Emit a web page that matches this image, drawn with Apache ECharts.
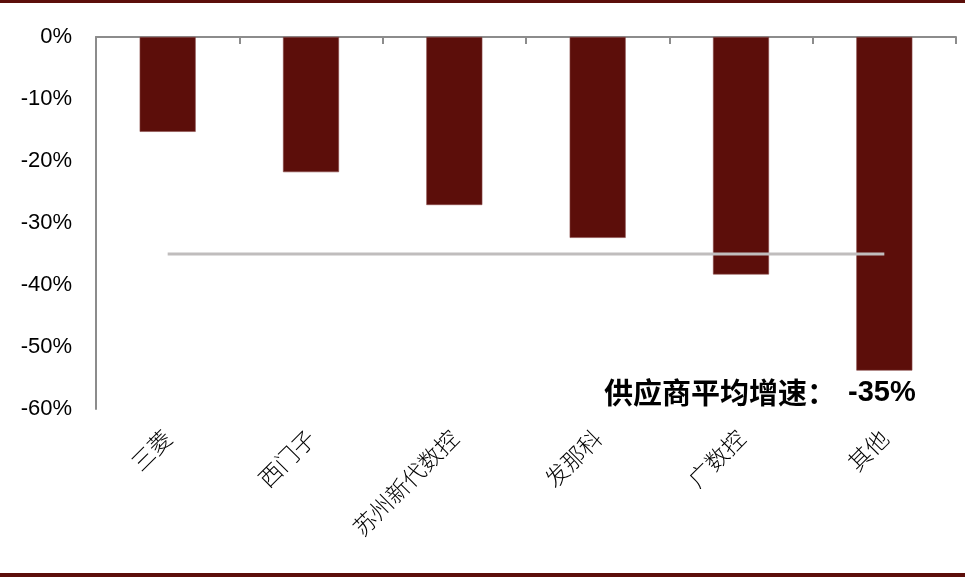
<!DOCTYPE html>
<html>
<head>
<meta charset="utf-8">
<script src="https://cdn.jsdelivr.net/npm/echarts@6/dist/echarts.min.js"></script>
<style>
html,body{margin:0;padding:0;background:#fff;}
#chart{width:965px;height:578px;}
</style>
</head>
<body>
<div id="chart"></div>
<script>
var categories = ['三菱', '西门子', '苏州新代数控', '发那科', '广数控', '其他'];
var growth = [-15.3, -21.8, -27.1, -32.4, -38.3, -53.8];
var average = [-35, -35, -35, -35, -35, -35];
var yTicks = { min: -60, max: 0, interval: 10 };
var annotationLabel = '供应商平均增速：';
var annotationValue = '-35%';

var chart = echarts.init(document.getElementById('chart'), null, { renderer: 'canvas' });
var dark = '#5c0e0a';
chart.setOption({
  backgroundColor: '#ffffff',
  animation: false,
  grid: { left: 96, right: 9, top: 37, bottom: 169 },
  xAxis: [
    {
      type: 'category',
      data: categories,
      position: 'top',
      axisLine: { onZero: false, lineStyle: { color: '#8c8c8c', width: 2 } },
      axisTick: { show: true, inside: true, length: 7, lineStyle: { color: '#8c8c8c', width: 2 } },
      axisLabel: { show: false },
      splitLine: { show: false }
    },
    {
      type: 'category',
      data: categories,
      position: 'bottom',
      axisLine: { show: false },
      axisTick: { show: false },
      axisLabel: {
        show: true,
        rotate: 45,
        margin: 25,
        fontSize: 23,
        color: '#000',
        fontFamily: '"Noto Sans CJK SC", sans-serif',
        fontWeight: 300
      },
      splitLine: { show: false }
    }
  ],
  yAxis: {
    type: 'value',
    min: yTicks.min,
    max: yTicks.max,
    interval: yTicks.interval,
    axisLine: { show: true, lineStyle: { color: '#8c8c8c', width: 2 } },
    axisTick: { show: false },
    splitLine: { show: false },
    axisLabel: {
      formatter: '{value}%',
      fontSize: 22,
      color: '#000',
      margin: 24,
      fontFamily: '"Liberation Sans", Arial, sans-serif'
    }
  },
  series: [
    {
      type: 'bar',
      xAxisIndex: 0,
      data: growth,
      barWidth: 56,
      itemStyle: { color: dark, borderColor: '#8a4a48', borderWidth: 0.6 },
      z: 2
    },
    {
      type: 'line',
      xAxisIndex: 0,
      data: average,
      symbol: 'none',
      lineStyle: { color: '#c0bdbd', width: 3 },
      z: 3
    }
  ],
  graphic: [
    { type: 'rect', left: 0, top: 0, shape: { width: 965, height: 3 }, style: { fill: dark } },
    { type: 'rect', left: 0, top: 573, shape: { width: 965, height: 4 }, style: { fill: dark } },
    {
      type: 'text',
      left: 604,
      top: 378,
      style: {
        text: '{a|' + annotationLabel + '}{b|' + annotationValue + '}',
        rich: {
          a: { font: 'bold 29px "Noto Sans CJK SC", sans-serif', fill: '#000', color: '#000' },
          b: { font: 'bold 29px "Liberation Sans", Arial, sans-serif', fill: '#000', color: '#000', padding: [0, 0, 0, 12] }
        }
      }
    }
  ]
});
</script>
</body>
</html>
